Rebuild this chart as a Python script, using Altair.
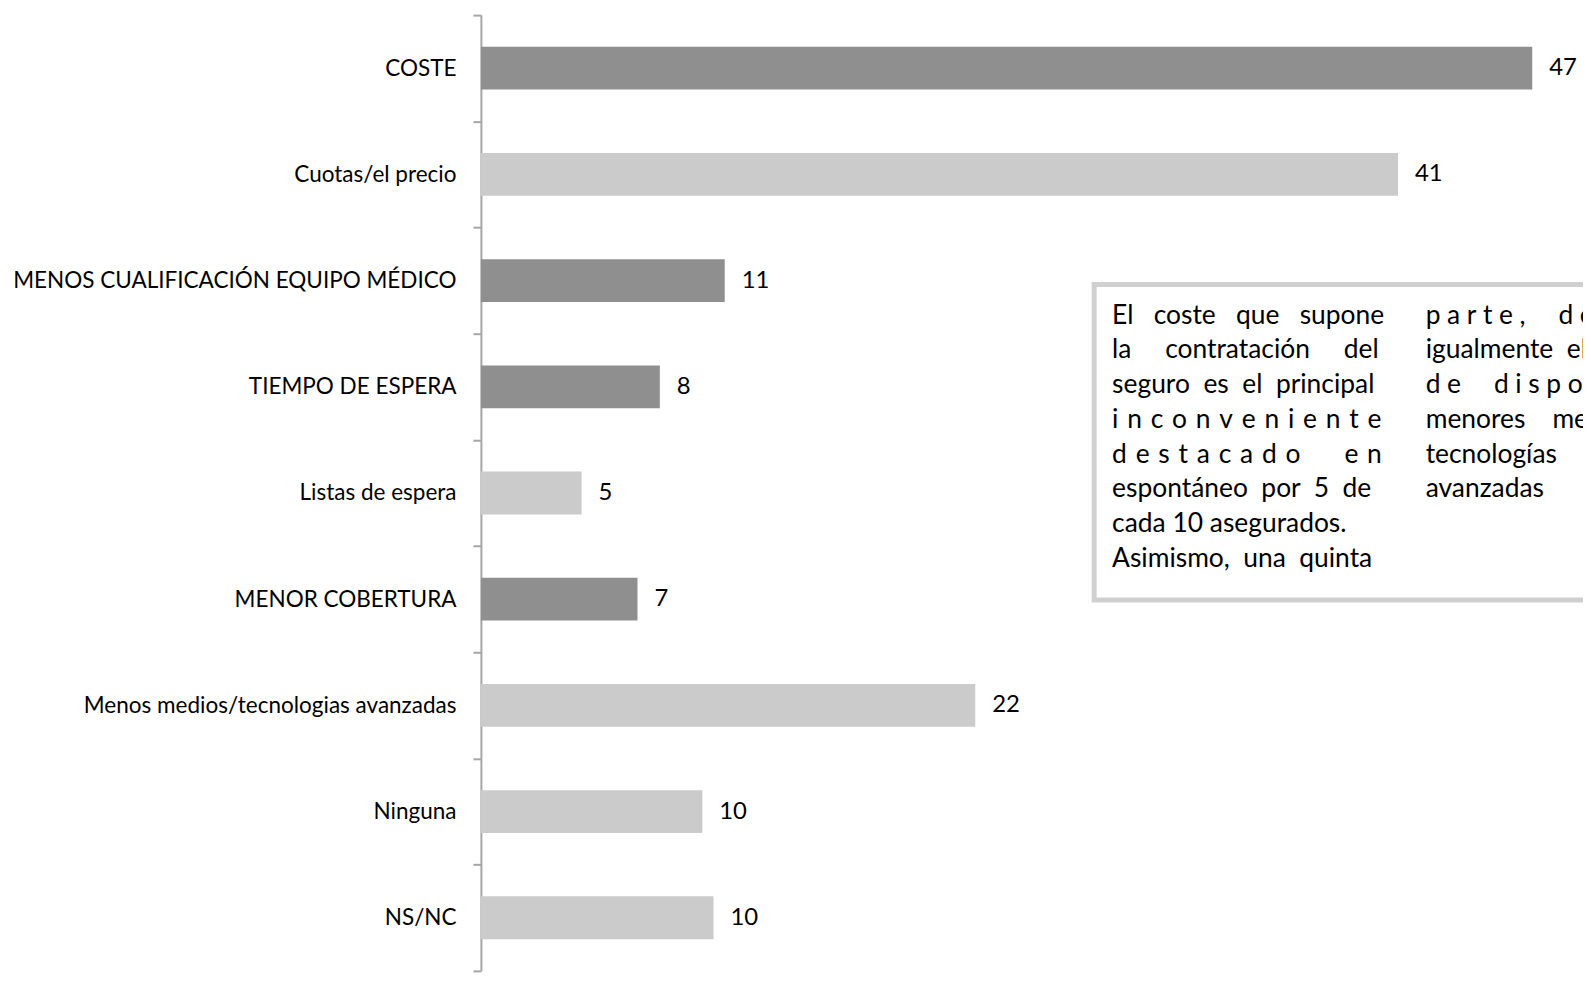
import altair as alt
import pandas as pd

categories = [
    "COSTE",
    "Cuotas/el precio",
    "MENOS CUALIFICACIÓN EQUIPO MÉDICO",
    "TIEMPO DE ESPERA",
    "Listas de espera",
    "MENOR COBERTURA",
    "Menos medios/tecnologias avanzadas",
    "Ninguna",
    "NS/NC",
]
values = [47, 41, 10.9, 8, 4.5, 7, 22.1, 9.9, 10.4]
value_labels = ["47", "41", "11", "8", "5", "7", "22", "10", "10"]
groups = ["main", "sub", "main", "main", "sub", "main", "sub", "sub", "sub"]

NB = "\u00a0"   # non-collapsing space (justified gaps)
LS = "\u2004"   # letter spacing of distributed lines (column 1)
LS2 = "\u2005"  # letter spacing of distributed lines (column 2)


def spaced(word, sep=LS):
    return sep.join(list(word))


note_col1 = [
    "El" + NB * 2 + " coste" + NB * 2 + " que" + NB * 2 + " supone",
    "la" + NB * 4 + " contratación" + NB * 4 + " del",
    "seguro" + NB + " es" + NB + " el" + NB + " principal",
    spaced("inconveniente"),
    spaced("destacado") + LS * 5 + spaced("en"),
    "espontáneo" + NB + " por" + NB + " 5" + NB + " de",
    "cada 10 asegurados.",
    "Asimismo," + NB + " una" + NB + " quinta",
]
note_col2 = [
    spaced("parte,", LS2) + LS2 * 5 + spaced("destaca", LS2),
    "igualmente" + NB + " el hecho",
    spaced("de", LS2) + LS2 * 5 + spaced("disponer", LS2),
    "menores" + NB * 3 + " medios",
    "tecnologías",
    "avanzadas",
]

df = pd.DataFrame({"cat": categories, "val": values, "lab": value_labels, "grp": groups})
n1 = pd.DataFrame({"txt": note_col1, "row": list(range(len(note_col1)))})
n2 = pd.DataFrame({"txt": note_col2, "row": list(range(len(note_col2)))})

FONT = "Lato"

y_enc = alt.Y(
    "cat:N",
    sort=categories,
    title=None,
    scale=alt.Scale(paddingInner=0, paddingOuter=0),
    axis=alt.Axis(
        labelFont=FONT,
        labelFontSize=22.6,
        labelColor="#000000",
        labelLimit=700,
        labelPadding=17,
        tickBand="extent",
        tickSize=8,
        tickWidth=2,
        tickColor="#a6a6a6",
        domainColor="#a6a6a6",
        domainWidth=2,
        grid=False,
    ),
)
x_enc = alt.X("val:Q", title=None, axis=None, scale=alt.Scale(domain=[0, 49.27], nice=False, zero=True))

bars = alt.Chart(df).mark_bar(size=43).encode(
    y=y_enc,
    x=x_enc,
    color=alt.Color("grp:N", scale=alt.Scale(domain=["main", "sub"], range=["#8f8f8f", "#cbcbcb"]), legend=None),
)

labels = alt.Chart(df).mark_text(
    align="left", baseline="middle", dx=17, font=FONT, fontSize=24, color="#000000"
).encode(y=alt.Y("cat:N", sort=categories), x="val:Q", text="lab:N")

box = alt.Chart(pd.DataFrame({"k": [0]})).mark_rect(
    fill="#ffffff", stroke="#d0d0d0", strokeWidth=5
).encode(x=alt.value(616), x2=alt.value(1300), y=alt.value(270.5), y2=alt.value(587.5))

note1 = alt.Chart(n1).transform_calculate(ypx="310 + datum.row * 34.9").mark_text(
    align="left", baseline="alphabetic", font=FONT, fontSize=26.5, color="#000000"
).encode(x=alt.value(634), y=alt.Y("ypx:Q", scale=None, axis=None), text="txt:N")

note2 = alt.Chart(n2).transform_calculate(ypx="310 + datum.row * 34.9").mark_text(
    align="left", baseline="alphabetic", font=FONT, fontSize=26.5, color="#000000"
).encode(x=alt.value(949), y=alt.Y("ypx:Q", scale=None, axis=None), text="txt:N")

chart = alt.layer(bars, labels, box, note1, note2).properties(
    width=1107,
    height=960,
    autosize=alt.AutoSizeParams(type="none"),
    padding={"left": 475, "top": 5, "right": 0, "bottom": 0},
).configure(background="#ffffff").configure_view(stroke=None)

chart.save("out.html", embed_options={"renderer": "svg", "actions": False})
